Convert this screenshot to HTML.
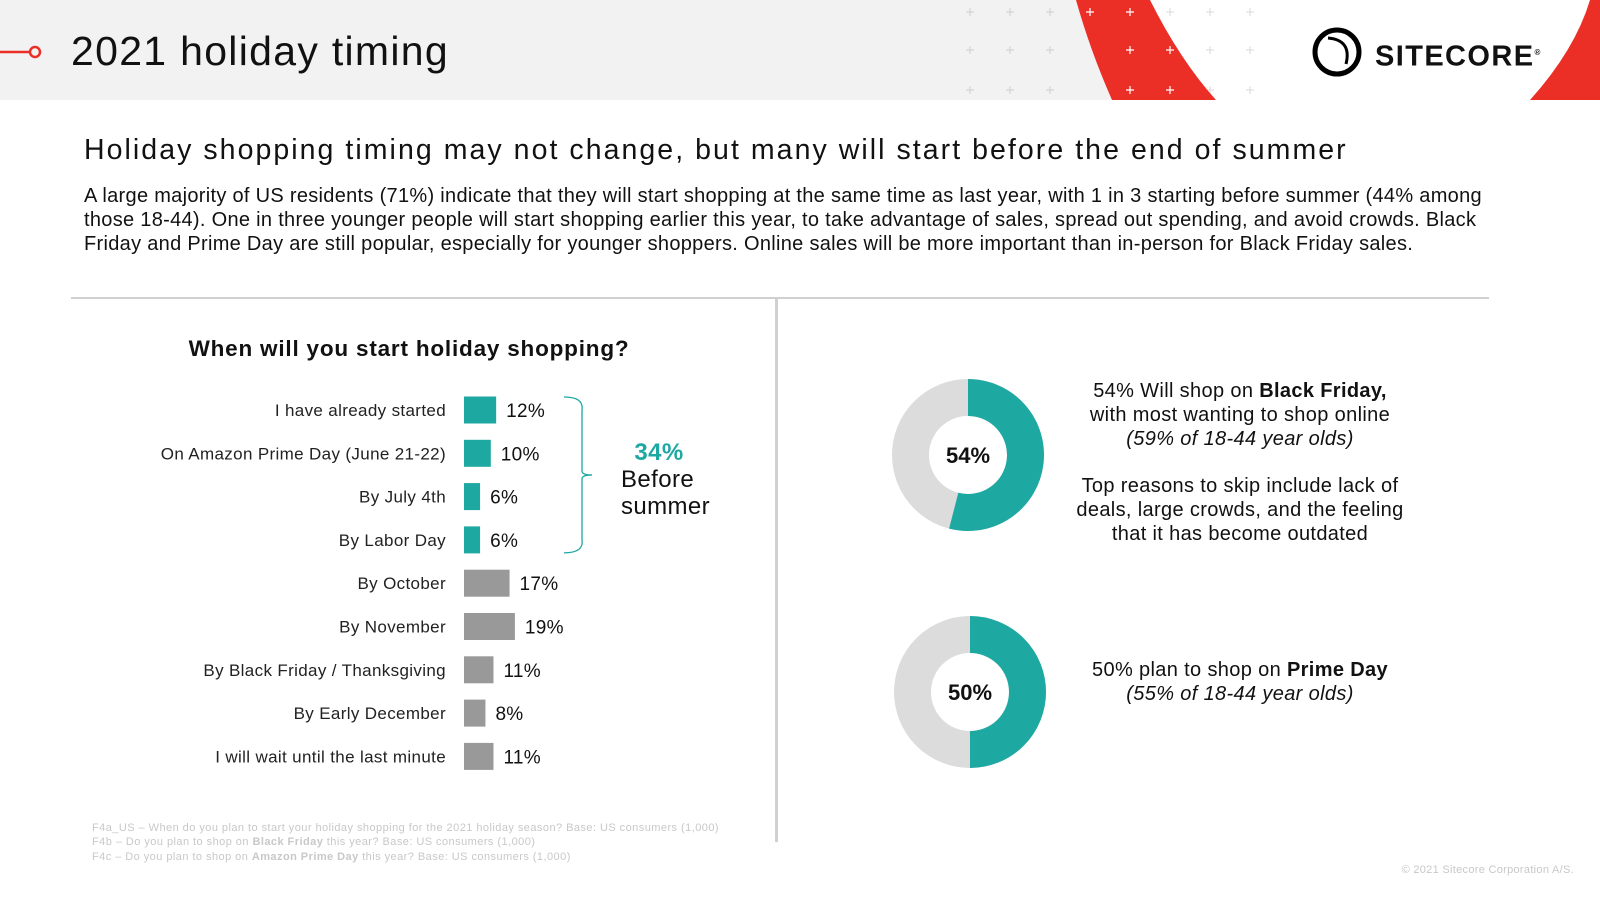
<!DOCTYPE html>
<html><head><meta charset="utf-8"><style>
*{margin:0;padding:0;box-sizing:border-box}
body{width:1600px;height:900px;background:#fff;font-family:"Liberation Sans","DejaVu Sans",sans-serif;color:#111;position:relative;overflow:hidden}
.abs{position:absolute}
</style></head><body>
<div class="abs" style="left:0;top:0;width:1600px;height:100px;background:#f2f2f2;overflow:hidden">
<svg width="1600" height="100" style="position:absolute;left:0;top:0">
<g stroke="#cfcfcf" stroke-width="1">
<path d="M966 12h8M970 8v8M1006 12h8M1010 8v8M1046 12h8M1050 8v8M966 50h8M970 46v8M1006 50h8M1010 46v8M1046 50h8M1050 46v8M966 90h8M970 86v8M1006 90h8M1010 86v8M1046 90h8M1050 86v8"/>
</g>
<path d="M1150 0 L1600 0 L1600 100 L1216 100 Q1180 60 1150 0Z" fill="#fff"/>
<g stroke="#d8d8d8" stroke-width="1"><path d="M1166 12h8M1170 8v8M1206 12h8M1210 8v8M1246 12h8M1250 8v8M1206 50h8M1210 46v8M1246 50h8M1250 46v8M1206 90h8M1210 86v8M1246 90h8M1250 86v8"/></g>
<path d="M1076 0 L1150 0 Q1180 60 1216 100 L1112 100 Q1090 50 1076 0Z" fill="#eb2f26"/>
<path d="M1590 0 L1600 0 L1600 100 L1530 100 Q1575 50 1590 0Z" fill="#eb2f26"/>
<g stroke="#fff" stroke-width="1.2"><path d="M1086 12h8M1090 8v8M1126 12h8M1130 8v8M1126 50h8M1130 46v8M1166 50h8M1170 46v8M1126 90h8M1130 86v8M1166 90h8M1170 86v8"/></g>
<line x1="0" y1="52" x2="30" y2="52" stroke="#eb2f26" stroke-width="2.5"/>
<circle cx="35" cy="52" r="5" fill="none" stroke="#eb2f26" stroke-width="2.5"/>
<circle cx="1337" cy="52" r="22" fill="none" stroke="#000" stroke-width="5"/>
<path d="M1328 38 Q1352 40 1346 64" fill="none" stroke="#000" stroke-width="3"/>
</svg>
<div class="abs" style="left:71px;top:26px;font-size:41px;line-height:50px;letter-spacing:1.3px">2021 holiday timing</div>
<div class="abs" style="left:1375px;top:35px;font-size:29px;font-weight:bold;letter-spacing:1.4px;line-height:36px">SITECORE<sup style="font-size:8px">®</sup></div>
</div>
<div class="abs" style="left:84px;top:133px;font-size:28.5px;line-height:34px;white-space:nowrap;letter-spacing:2.05px">Holiday shopping timing may not change, but many will start before the end of summer</div>
<div class="abs" style="left:84px;top:184px;width:1500px;font-size:20px;line-height:24.2px;white-space:nowrap;letter-spacing:0.3px">A large majority of US residents (71%) indicate that they will start shopping at the same time as last year, with 1 in 3 starting before summer (44% among<br>those 18-44). One in three younger people will start shopping earlier this year, to take advantage of sales, spread out spending, and avoid crowds. Black<br>Friday and Prime Day are still popular, especially for younger shoppers. Online sales will be more important than in-person for Black Friday sales.</div>
<div class="abs" style="left:71px;top:297px;width:1418px;height:2px;background:#d0d0d0"></div>
<div class="abs" style="left:775px;top:298px;width:3px;height:544px;background:#d0d0d0"></div>
<div class="abs" style="left:109px;top:335px;width:600px;text-align:center;font-size:22.5px;font-weight:bold;line-height:28px;letter-spacing:0.8px">When will you start holiday shopping?</div>
<svg id="bars" class="abs" style="left:0;top:0" width="780" height="800"></svg>
<div class="abs" style="left:609px;top:439px;width:100px;text-align:center;font-size:24px;line-height:27px;letter-spacing:0.4px"><b style="color:#1ea8a2">34%</b><br><span style="display:block;text-align:left;padding-left:12px">Before<br>summer</span></div>
<svg id="donuts" class="abs" style="left:0;top:0" width="1600" height="800"></svg>
<div class="abs" style="left:1040px;top:379px;width:400px;text-align:center;font-size:20px;line-height:24px;letter-spacing:0.35px;white-space:nowrap">54% Will shop on <b>Black Friday,</b><br>with most wanting to shop online<br><i>(59% of 18-44 year olds)</i><br><div style="height:23px"></div>Top reasons to skip include lack of<br>deals, large crowds, and the feeling<br>that it has become outdated</div>
<div class="abs" style="left:1040px;top:658px;width:400px;text-align:center;font-size:20px;line-height:24px;letter-spacing:0.35px">50% plan to shop on <b>Prime Day</b><br><i>(55% of 18-44 year olds)</i></div>
<div class="abs" style="left:92px;top:821px;font-size:11px;line-height:14.3px;color:#c8c8c8;letter-spacing:0.45px;white-space:nowrap">F4a_US – When do you plan to start your holiday shopping for the 2021 holiday season? Base: US consumers (1,000)<br>F4b – Do you plan to shop on <b>Black Friday</b> this year? Base: US consumers (1,000)<br>F4c – Do you plan to shop on <b>Amazon Prime Day</b> this year? Base: US consumers (1,000)</div>
<div class="abs" style="right:26px;top:864px;font-size:11px;color:#c8c8c8;letter-spacing:0.3px">© 2021 Sitecore Corporation A/S.</div>
<script>
const categories=["I have already started","On Amazon Prime Day (June 21-22)","By July 4th","By Labor Day","By October","By November","By Black Friday / Thanksgiving","By Early December","I will wait until the last minute"];
const values=[12,10,6,6,17,19,11,8,11];
const beforeSummer=[true,true,true,true,false,false,false,false,false];
const donutValues=[54,50];
const NS="http://www.w3.org/2000/svg";
function mk(p,t,a){const e=document.createElementNS(NS,t);for(const k in a)e.setAttribute(k,a[k]);p.appendChild(e);return e;}
const svg=document.getElementById('bars');
const x0=464,pxPer=2.68;
const xs=v=>v*pxPer;
const ys=i=>410+i*43.3;
categories.forEach((c,i)=>{
 const y=ys(i);
 const lb=mk(svg,'text',{x:446,y:y+6,'text-anchor':'end','font-size':17,fill:'#222','font-family':'Liberation Sans, sans-serif','letter-spacing':0.35});lb.textContent=c;
 
 
 const r=mk(svg,'rect',{x:x0,y:y-13.5,width:xs(values[i]),height:27,fill:beforeSummer[i]?'#1ea8a2':'#999'});
 
 
 const v=mk(svg,'text',{x:x0+xs(values[i])+10,y:y+7,'font-size':19,fill:'#111','font-family':'Liberation Sans, sans-serif','letter-spacing':0.3});v.textContent=values[i]+'%';
 
 
});
const br=mk(svg,'path',{d:`M564 ${ys(0)-13} Q584 ${ys(0)-13} 582 ${ys(0)} L582 ${(ys(0)+ys(3))/2-4} Q582 ${(ys(0)+ys(3))/2} 592 ${(ys(0)+ys(3))/2} Q582 ${(ys(0)+ys(3))/2} 582 ${(ys(0)+ys(3))/2+4} L582 ${ys(3)} Q584 ${ys(3)+13} 564 ${ys(3)+13}`,fill:'none',stroke:'#1ea8a2','stroke-width':1.3});


const ds=document.getElementById('donuts');
const centers=[[968,455],[970,692]];
donutValues.forEach((v,i)=>{
 const [cx,cy]=centers[i],R=76,r=39,m=(R+r)/2,w=R-r;
 const bg=mk(ds,'circle',{cx,cy,r:m,fill:'none',stroke:'#dcdcdc','stroke-width':w});
 
 
 const a=v/100*2*Math.PI;
 const ex=cx+m*Math.sin(a),ey=cy-m*Math.cos(a);
 const arc=mk(ds,'path',{d:`M${cx} ${cy-m} A${m} ${m} 0 ${v>50?1:0} 1 ${ex} ${ey}`,fill:'none',stroke:'#1ea8a2','stroke-width':w});
 
 
 const t=mk(ds,'text',{x:cx,y:cy+8,'text-anchor':'middle','font-size':22,'font-weight':'bold',fill:'#111','font-family':'Liberation Sans, sans-serif'});t.textContent=v+'%';
 
 
});
</script>
</body></html>
